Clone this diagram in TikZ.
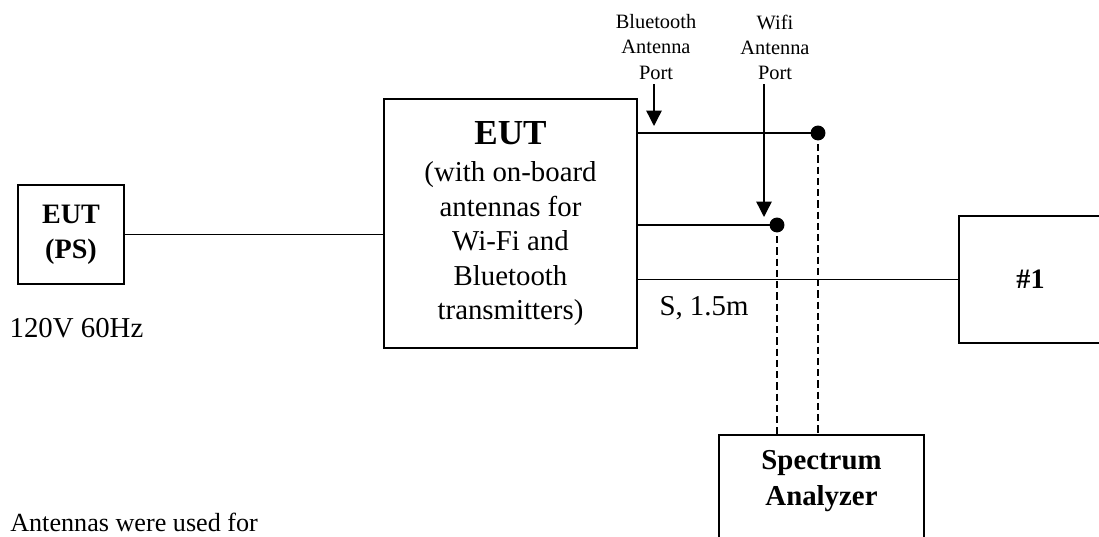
\documentclass[tikz,border=0pt]{standalone}
\usepackage{fontspec}
\setmainfont{Liberation Serif}
\usetikzlibrary{arrows.meta}

\tikzset{
  box/.style={draw, line width=1.3pt, inner sep=0pt, align=center},
  wire/.style={line width=1pt},
  probe/.style={line width=1pt, dash pattern=on 5pt off 3pt},
  portdot/.style={circle, fill, inner sep=0pt, minimum size=10.6pt},
  mainfont/.style={font=\fontsize{20.5}{24.5}\selectfont},
  smallfont/.style={font=\fontsize{14.5}{17.8}\selectfont, align=center}
}

\begin{document}
\begin{tikzpicture}[x=0.025cm, y=-0.025cm, >={Triangle[width=11pt,length=11pt]}]
  \useasboundingbox (0,0) rectangle (1099,537);
  \clip (0,0) rectangle (1099,537);

  % boxes
  \node (ps) [box, minimum width=2.65cm, minimum height=2.475cm,
    font=\fontsize{20}{25}\selectfont\bfseries] at (71,234.5) {EUT\\(PS)};
  \node (eut) [box, mainfont, minimum width=6.325cm, minimum height=6.225cm]
    at (510.5,223.5)
    {{\fontsize{25}{30}\selectfont\bfseries EUT}\\[2pt]
     (with on-board\\antennas for\\Wi-Fi and\\Bluetooth\\transmitters)};
  \node (r1) [box, minimum width=3.575cm, minimum height=3.175cm,
    font=\fontsize{20}{24}\selectfont\bfseries] at (1030.5,279.5) {\#1};
  \node (sa) [box, anchor=north, minimum width=5.125cm, minimum height=2.75cm]
    at (821.5,434) {};
  \node (salabel) [font=\fontsize{20.5}{26}\selectfont\bfseries, align=center]
    at (821.5,481) {Spectrum\\Analyzer};

  % antenna ports
  \node (btdot) [portdot] at (818,133) {};
  \node (wifidot) [portdot] at (777,225) {};

  \coordinate (bttip) at (654,126);
  \coordinate (wifitip) at (764,217);

  \node (btlabel) [smallfont] at (656,47) {Bluetooth\\Antenna\\Port};
  \node (wifilabel) [smallfont] at (775,47) {Wifi\\Antenna\\Port};

  % texts
  \node (mains) [mainfont] at (76.5,328) {120V 60Hz};
  \node (cable) [mainfont] at (704,308) {S, 1.5m};
  \node (note) [font=\fontsize{18.6}{22}\selectfont, anchor=west, inner sep=0pt]
    at (10,522) {Antennas were used for};

  % connections
  \draw[wire] (ps.east) -- (ps.east -| eut.west);
  \draw[wire] (btdot.center -| eut.east) -- (btdot.center);
  \draw[wire] (wifidot.center -| eut.east) -- (wifidot.center);
  \draw[wire] (r1.west -| eut.east) -- (r1.west);

  \draw[probe] (btdot.center) -- (btdot.center |- sa.north);
  \draw[probe] (wifidot.center) -- (wifidot.center |- sa.north);

  \draw[wire, ->] (bttip |- btlabel.south) -- (bttip);
  \draw[wire, ->] (wifitip |- wifilabel.south) -- (wifitip);

\end{tikzpicture}
\end{document}
